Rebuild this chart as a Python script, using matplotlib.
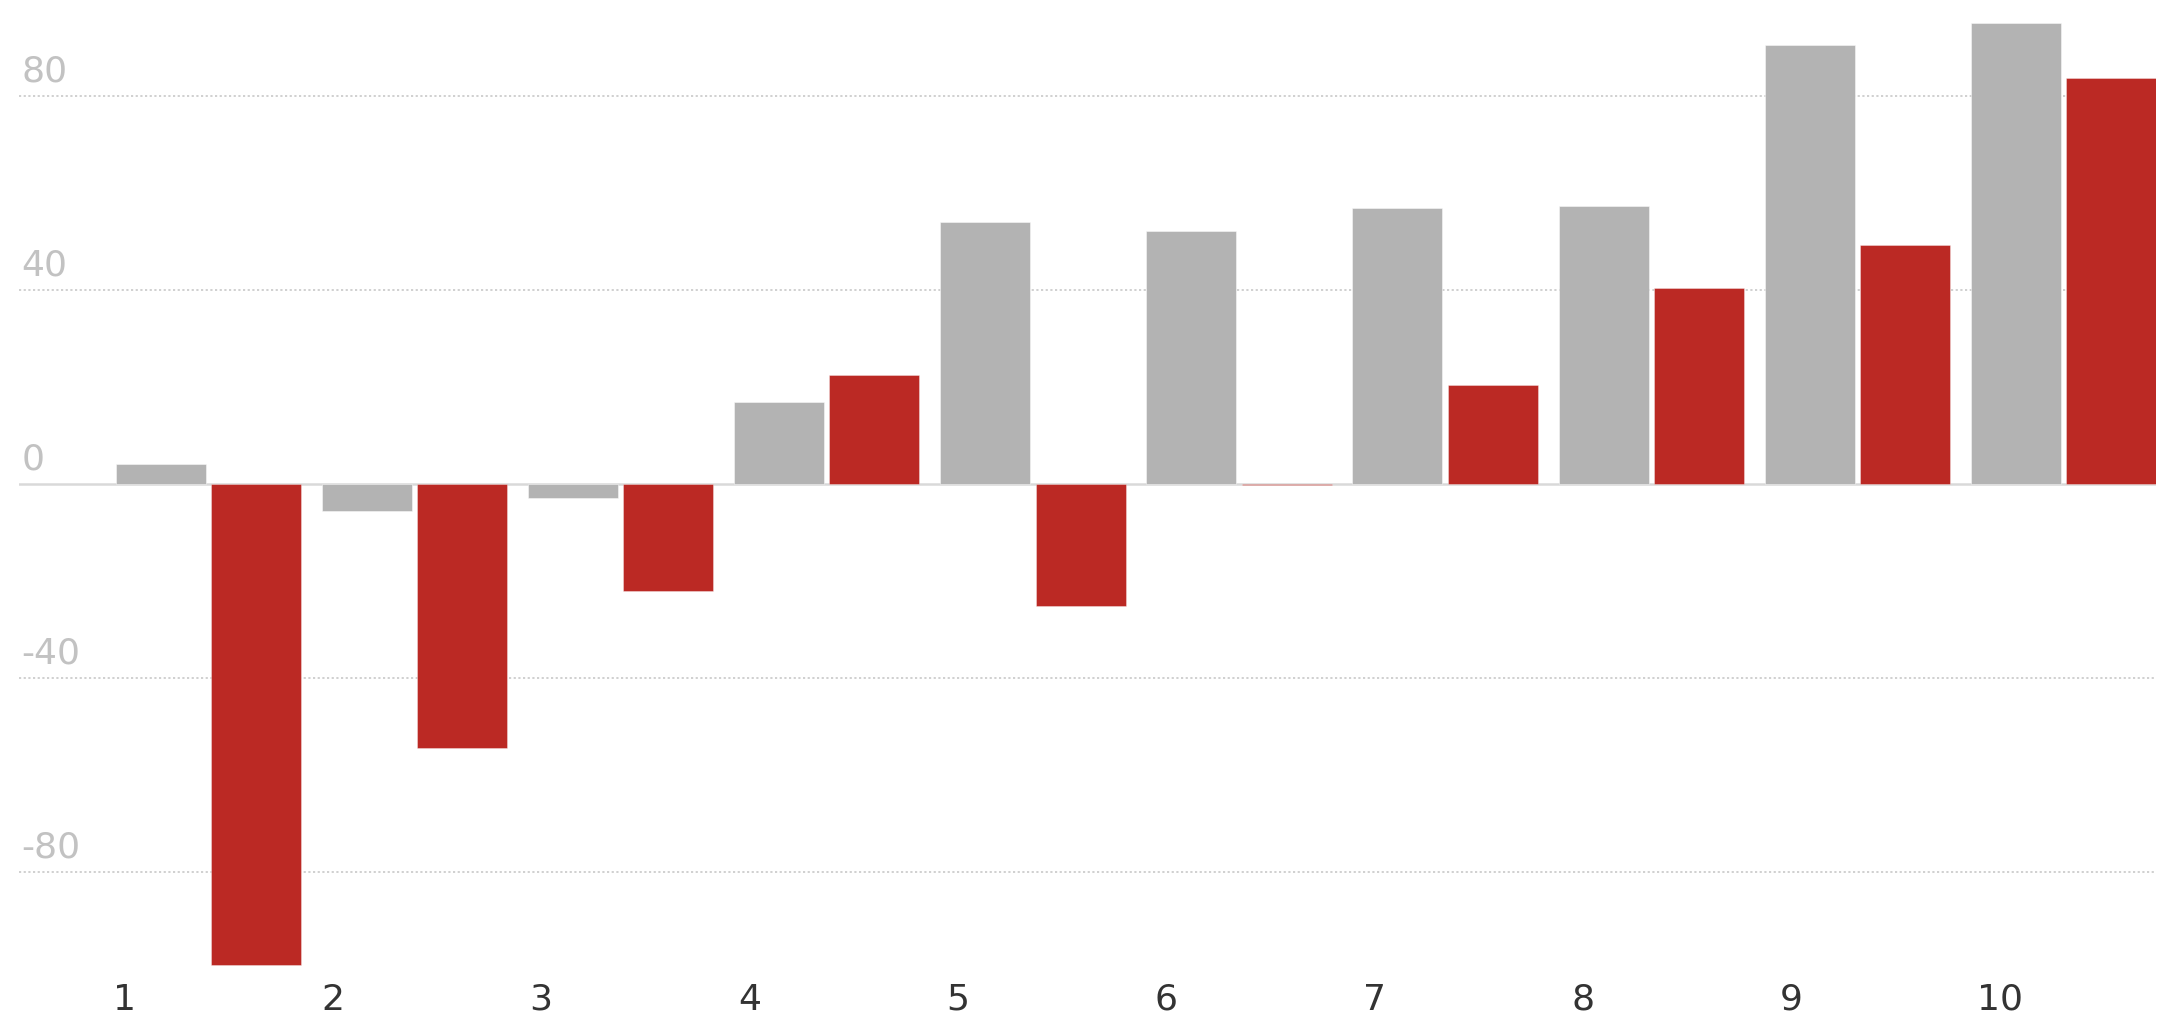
import matplotlib
matplotlib.use("Agg")
import matplotlib.pyplot as plt
import matplotlib.transforms as mtransforms
import numpy as np

# ---- data ----
categories = ["1", "2", "3", "4", "5", "6", "7", "8", "9", "10"]
grey_values = [4.0, -5.6, -2.9, 16.8, 53.9, 52.1, 56.8, 57.2, 90.6, 95.1]
red_values = [-99.3, -54.5, -22.2, 22.4, -25.3, -0.3, 20.4, 40.3, 49.2, 83.6]
y_ticks = [80, 40, 0, -40, -80]
y_tick_labels = ["80", "40", "0", "-40", "-80"]

# ---- style ----
GREY = "#b3b3b3"
RED = "#bb2924"
W, H = 2167, 1020
DPI = 100

fig = plt.figure(figsize=(W / DPI, H / DPI), dpi=DPI)
fig.patch.set_facecolor("white")

left_px, right_px = 19.3, 2156.0
top_px, bottom_px = 0.0, 969.5
ax = fig.add_axes([left_px / W, 1 - bottom_px / H,
                   (right_px - left_px) / W, (bottom_px - top_px) / H])
ax.set_facecolor("white")

x = np.arange(len(categories))
bar_w = 0.4367
off = 0.2312

ax.bar(x - off, grey_values, width=bar_w, color=GREY,
       edgecolor=(1, 1, 1, 0.45), linewidth=0.7, zorder=3)
ax.bar(x + off, red_values, width=bar_w, color=RED,
       edgecolor=(1, 1, 1, 0.35), linewidth=0.7, zorder=3)

ax.set_xlim(-0.918, 9.4496)
ax.set_ylim(-100, 100)

# gridlines
for v in y_ticks:
    if v == 0:
        ax.axhline(0, color="#d9d9d9", linewidth=1.8, zorder=2)
    else:
        ax.axhline(v, color="#c8c8c8", linewidth=1.2,
                   linestyle=(0, (1.3, 1.5)), zorder=1)

for s in ax.spines.values():
    s.set_visible(False)
ax.set_xticks([])
ax.set_yticks([])

font = ["DejaVu Sans"]

# y tick labels, above gridlines, left aligned
ytrans = mtransforms.blended_transform_factory(ax.transAxes, ax.transData)
for v, lab in zip(y_ticks, y_tick_labels):
    ax.text(0.001, v + 3.1, lab, transform=ytrans, ha="left", va="baseline",
            fontsize=26, color="#c2c2c2", family=font, clip_on=False)

# x category labels
xtrans = mtransforms.blended_transform_factory(ax.transData, fig.transFigure)
label_start = -0.408
label_step = 1.0111
for i, lab in enumerate(categories):
    ax.text(label_start + label_step * i, 1 - 1010 / H, lab, transform=xtrans,
            ha="center", va="baseline", fontsize=26, color="#333333",
            family=font, clip_on=False)

fig.savefig("out.png", dpi=DPI, facecolor="white")
